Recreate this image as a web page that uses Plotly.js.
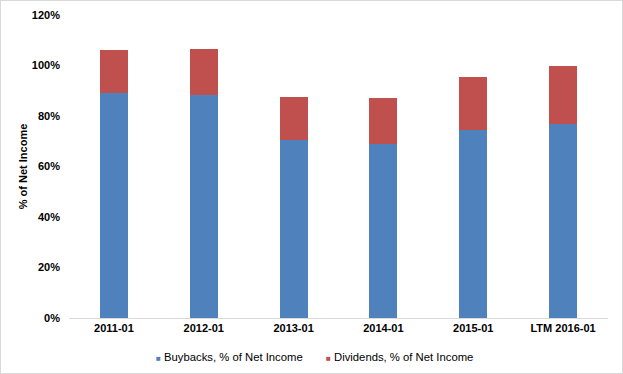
<!DOCTYPE html>
<html>
<head>
<meta charset="utf-8">
<script src="https://cdn.plot.ly/plotly-3.0.1.min.js"></script>
<style>
  html, body { margin: 0; padding: 0; background: #fff; }
  #wrap { position: relative; width: 623px; height: 374px; }
  #chart { width: 623px; height: 374px; }
  #frame { position: absolute; left: 0; top: 0; width: 621px; height: 372px; border: 1px solid #D9D9D9; pointer-events: none; }
</style>
</head>
<body>
<div id="wrap">
  <div id="chart"></div>
  <div id="frame"></div>
</div>
<script>
const categories = ["2011-01", "2012-01", "2013-01", "2014-01", "2015-01", "LTM 2016-01"];
const buybacks = [89.1, 88.2, 70.5, 69.0, 74.6, 77.0];
const dividends = [17.0, 18.3, 17.0, 18.1, 20.8, 22.8];
const seriesNames = ["Buybacks, % of Net Income", "Dividends, % of Net Income"];
const seriesColors = ["#4F81BD", "#C0504D"];
const yTickVals = [0, 20, 40, 60, 80, 100, 120];
const yTickText = ["0%", "20%", "40%", "60%", "80%", "100%", "120%"];

const FONT = "Liberation Sans, Arial, sans-serif";

function legendLabel(i) {
  return '<span style="color:' + seriesColors[i] + ';font-size:8px">■</span> ' + seriesNames[i];
}

const hiddenMarker = { symbol: "square", size: 0, color: "rgba(0,0,0,0)", opacity: 0, line: { width: 0, color: "rgba(0,0,0,0)" } };

const traces = [
  {
    type: "bar", name: seriesNames[0],
    x: categories, y: buybacks,
    marker: { color: seriesColors[0] },
    showlegend: false, hoverinfo: "skip"
  },
  {
    type: "bar", name: seriesNames[1],
    x: categories, y: dividends,
    marker: { color: seriesColors[1] },
    showlegend: false, hoverinfo: "skip"
  },
  {
    type: "scatter", mode: "markers", name: legendLabel(0),
    x: [null], y: [null],
    marker: hiddenMarker,
    legend: "legend", hoverinfo: "skip"
  },
  {
    type: "scatter", mode: "markers", name: legendLabel(1),
    x: [null], y: [null],
    marker: hiddenMarker,
    legend: "legend2", hoverinfo: "skip"
  }
];

const legendCommon = {
  orientation: "h", xanchor: "left", yanchor: "top", y: -0.08,
  font: { family: FONT, size: 11.3, color: "#000" },
  itemwidth: 30, bgcolor: "rgba(0,0,0,0)"
};

const layout = {
  width: 623, height: 374,
  margin: { l: 69, r: 15, t: 15, b: 56, autoexpand: false },
  paper_bgcolor: "#ffffff", plot_bgcolor: "#ffffff",
  barmode: "stack",
  bargap: 0.69,
  font: { family: FONT, size: 11, color: "#000" },
  showlegend: true,
  legend: Object.assign({}, legendCommon, { x: 0.0872 }),
  legend2: Object.assign({}, legendCommon, { x: 0.4026 }),
  xaxis: {
    type: "category",
    showline: true, linecolor: "#D9D9D9", linewidth: 1,
    showgrid: false, ticks: "", zeroline: false,
    tickfont: { family: FONT, size: 11, color: "#000", weight: "bold" }
  },
  yaxis: {
    range: [0, 120],
    tickvals: yTickVals, ticktext: yTickText,
    showgrid: false, zeroline: false, showline: false, ticks: "",
    ticklabelstandoff: 8,
    tickfont: { family: FONT, size: 11, color: "#000", weight: "bold" },
    title: { text: "% of Net Income", standoff: 2,
      font: { family: FONT, size: 11, color: "#000", weight: "bold" } }
  }
};

Plotly.newPlot("chart", traces, layout, { displayModeBar: false, staticPlot: true });
</script>
</body>
</html>
